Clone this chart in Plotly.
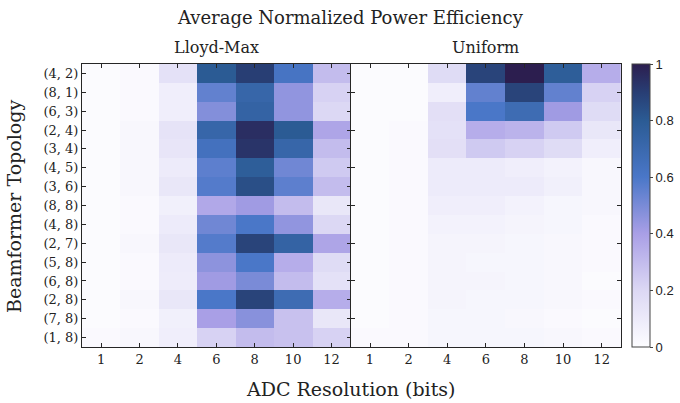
import plotly.graph_objects as go

bits = ["1", "2", "4", "6", "8", "10", "12"]
topologies = ["(4, 2)", "(8, 1)", "(6, 3)", "(2, 4)", "(3, 4)", "(4, 5)", "(3, 6)", "(8, 8)",
              "(4, 8)", "(2, 7)", "(5, 8)", "(6, 8)", "(2, 8)", "(7, 8)", "(1, 8)"]

lloyd_max = [
    [0.01, 0.02, 0.15, 0.80, 0.90, 0.62, 0.30],
    [0.01, 0.02, 0.08, 0.55, 0.72, 0.45, 0.22],
    [0.01, 0.02, 0.08, 0.48, 0.74, 0.45, 0.20],
    [0.01, 0.03, 0.14, 0.72, 0.95, 0.80, 0.38],
    [0.01, 0.03, 0.13, 0.64, 0.93, 0.72, 0.30],
    [0.01, 0.03, 0.10, 0.56, 0.78, 0.52, 0.25],
    [0.01, 0.03, 0.12, 0.58, 0.84, 0.56, 0.30],
    [0.01, 0.02, 0.07, 0.37, 0.42, 0.30, 0.12],
    [0.01, 0.02, 0.10, 0.52, 0.60, 0.45, 0.20],
    [0.01, 0.03, 0.12, 0.58, 0.88, 0.74, 0.38],
    [0.01, 0.02, 0.10, 0.46, 0.60, 0.35, 0.18],
    [0.01, 0.02, 0.09, 0.42, 0.50, 0.30, 0.15],
    [0.01, 0.03, 0.12, 0.60, 0.88, 0.68, 0.35],
    [0.01, 0.02, 0.07, 0.40, 0.47, 0.28, 0.12],
    [0.02, 0.03, 0.08, 0.22, 0.30, 0.28, 0.22],
]

uniform = [
    [0.01, 0.01, 0.18, 0.88, 1.00, 0.78, 0.35],
    [0.01, 0.01, 0.08, 0.55, 0.88, 0.55, 0.22],
    [0.01, 0.01, 0.16, 0.60, 0.68, 0.42, 0.18],
    [0.01, 0.02, 0.15, 0.35, 0.33, 0.25, 0.12],
    [0.01, 0.02, 0.16, 0.25, 0.22, 0.18, 0.08],
    [0.01, 0.02, 0.10, 0.10, 0.08, 0.06, 0.03],
    [0.01, 0.02, 0.10, 0.10, 0.10, 0.07, 0.03],
    [0.01, 0.02, 0.08, 0.08, 0.06, 0.04, 0.03],
    [0.01, 0.02, 0.06, 0.06, 0.05, 0.04, 0.02],
    [0.01, 0.02, 0.05, 0.05, 0.04, 0.03, 0.02],
    [0.01, 0.02, 0.05, 0.04, 0.04, 0.03, 0.02],
    [0.01, 0.02, 0.05, 0.05, 0.04, 0.03, 0.01],
    [0.01, 0.02, 0.05, 0.04, 0.04, 0.03, 0.02],
    [0.01, 0.02, 0.04, 0.04, 0.03, 0.02, 0.01],
    [0.02, 0.02, 0.04, 0.04, 0.04, 0.03, 0.02],
]

colorscale = [
    [0.0, "#fdfdff"],
    [0.2, "#dcd8f4"],
    [0.4, "#a99fe6"],
    [0.6, "#4a77c8"],
    [0.8, "#2b5b94"],
    [0.9, "#283e74"],
    [1.0, "#2c1e4f"],
]

W, H = 680, 403
ML, MR, MT, MB = 82, 59, 64, 56
PW, PH = W - ML - MR, H - MT - MB
serif = "DejaVu Serif, Liberation Serif, serif"


def xp(px):
    return (px - ML) / PW


def yp(py):
    return 1 - (py - MT) / PH


fig = go.Figure()
fig.add_trace(go.Heatmap(z=lloyd_max, x=bits, y=topologies, colorscale=colorscale,
                         zmin=0, zmax=1, xaxis="x", yaxis="y", showscale=False))
fig.add_trace(go.Heatmap(z=uniform, x=bits, y=topologies, colorscale=colorscale,
                         zmin=0, zmax=1, xaxis="x2", yaxis="y2",
                         colorbar=dict(x=xp(632), xanchor="left", y=0.5, yanchor="middle",
                                       len=1, lenmode="fraction", xpad=0, ypad=0,
                                       thickness=18, outlinecolor="#444", outlinewidth=1,
                                       tickvals=[0, 0.2, 0.4, 0.6, 0.8, 1],
                                       ticktext=["0", "0.2", "0.4", "0.6", "0.8", "1"],
                                       ticks="outside", ticklen=3, tickcolor="#444",
                                       tickfont=dict(family="Liberation Sans", size=13, color="#222"))))

axis_common = dict(type="category", showline=True, mirror="ticks", linecolor="#262626",
                   linewidth=1, ticks="inside", ticklen=4, tickcolor="#262626",
                   showgrid=False, zeroline=False,
                   tickfont=dict(family=serif, size=13, color="#222"))

split = xp(350.7)


def ann(text, x, y, size, angle=0):
    return dict(text=text, x=xp(x), y=yp(y), xref="paper", yref="paper",
                xanchor="center", yanchor="middle", showarrow=False, textangle=angle,
                font=dict(family=serif, size=size, color="#222"))


fig.update_layout(
    width=W, height=H, margin=dict(l=ML, r=MR, t=MT, b=MB, autoexpand=False),
    paper_bgcolor="white", plot_bgcolor="white",
    xaxis=dict(domain=[0, split], anchor="y", **axis_common),
    yaxis=dict(domain=[0, 1], anchor="x", autorange="reversed", **axis_common),
    xaxis2=dict(domain=[split, 1], anchor="y2", **axis_common),
    yaxis2=dict(domain=[0, 1], anchor="x2", autorange="reversed", showticklabels=False,
                tickmode="array", tickvals=topologies[1::2], **axis_common),
    annotations=[
        ann("Average Normalized Power Efficiency", 350, 18, 18),
        ann("Lloyd-Max", 216, 47, 16),
        ann("Uniform", 485, 47, 16),
        ann("ADC Resolution (bits)", 350, 389, 19),
        ann("Beamformer Topology", 14, 207, 19, -90),
    ],
)

fig.write_html("out.html")
